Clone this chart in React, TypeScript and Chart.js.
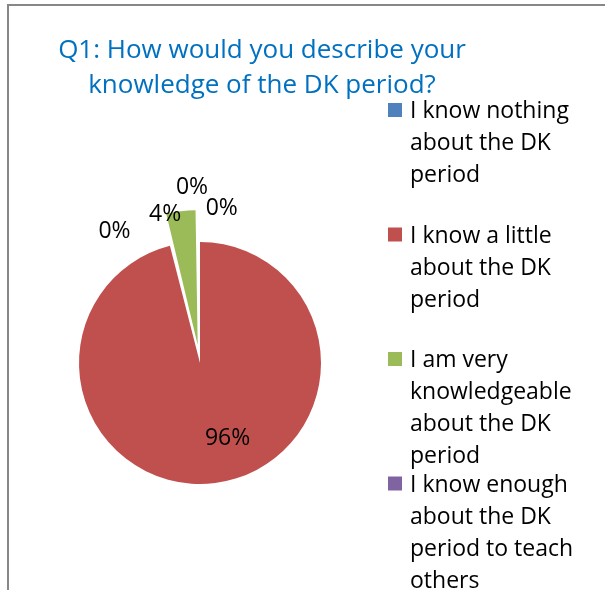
import React, { useEffect, useRef } from "react";
import { Chart, registerables } from "chart.js";

Chart.register(...registerables);

const titleLines = ["Q1: How would you describe your", "knowledge of the DK period?"];
const categories = [
  "I know nothing about the DK period",
  "I know a little about the DK period",
  "I am very knowledgeable about the DK period",
  "I know enough about the DK period to teach others",
  "",
];
const percentValues = [0, 96, 4, 0, 0];
const sliceColors = ["#4F81BD", "#C0504D", "#9BBB59", "#8064A2", "#4BACC6"];
const explodeOffsets = [0, 0, 73, 0, 0];

const FONT = "'Open Sans', 'Noto Sans', sans-serif";
const W = 605;
const H = 590;

// label placement: angle nudge (deg) from slice mid-angle and distance from pie centre
const labelPlacement = [
  { dAngle: 8, dist: 156 },
  { dAngle: -13, dist: 80 },
  { dAngle: -6, dist: 153 },
  { dAngle: -2.6, dist: 176 },
  { dAngle: -33, dist: 157 },
];

function wrapText(ctx: CanvasRenderingContext2D, text: string, maxW: number): string[] {
  const words = text.split(" ");
  const lines: string[] = [];
  let cur = "";
  for (const w of words) {
    const test = cur ? cur + " " + w : w;
    if (ctx.measureText(test).width > maxW && cur) {
      lines.push(cur);
      cur = w;
    } else {
      cur = test;
    }
  }
  if (cur) lines.push(cur);
  return lines;
}

const framePlugin = {
  id: "frame",
  beforeDraw(chart: any) {
    const ctx = chart.ctx;
    ctx.save();
    ctx.fillStyle = "#ffffff";
    ctx.fillRect(0, 0, W, H);
    ctx.strokeStyle = "#878787";
    ctx.lineWidth = 2;
    ctx.beginPath();
    ctx.moveTo(8, H + 5);
    ctx.lineTo(8, 5);
    ctx.lineTo(W + 5, 5);
    ctx.stroke();
    ctx.restore();
  },
};

const titlePlugin = {
  id: "excelTitle",
  afterDraw(chart: any) {
    const ctx = chart.ctx;
    ctx.save();
    ctx.font = `26px ${FONT}`;
    ctx.fillStyle = "#0070C0";
    ctx.textAlign = "center";
    ctx.textBaseline = "alphabetic";
    titleLines.forEach((t, i) => ctx.fillText(t, 262, 58 + i * 35));
    ctx.restore();
  },
};

const legendPlugin = {
  id: "excelLegend",
  afterDraw(chart: any) {
    const ctx = chart.ctx;
    ctx.save();
    ctx.font = `23px ${FONT}`;
    ctx.fillStyle = "#000000";
    ctx.textAlign = "left";
    ctx.textBaseline = "alphabetic";
    let item = 0;
    categories.forEach((label, i) => {
      if (!label) return;
      const base = 118 + item * 124.5;
      ctx.fillStyle = sliceColors[i];
      ctx.fillRect(388, base - 15, 14, 14);
      ctx.fillStyle = "#000000";
      const lines = wrapText(ctx, label, 180);
      lines.forEach((ln, j) => ctx.fillText(ln, 410, base + j * 32));
      item++;
    });
    ctx.restore();
  },
};

const labelPlugin = {
  id: "sliceLabels",
  afterDatasetsDraw(chart: any) {
    const ctx = chart.ctx;
    const meta = chart.getDatasetMeta(0);
    ctx.save();
    ctx.font = `23px ${FONT}`;
    ctx.fillStyle = "#000000";
    ctx.textAlign = "center";
    ctx.textBaseline = "middle";
    meta.data.forEach((arc: any, i: number) => {
      const p = arc.getProps(["x", "y", "startAngle", "endAngle"], true);
      const mid = (p.startAngle + p.endAngle) / 2;
      const pl = labelPlacement[i];
      const a = mid + (pl.dAngle * Math.PI) / 180;
      const x = p.x + Math.cos(a) * pl.dist;
      const y = p.y + Math.sin(a) * pl.dist;
      ctx.fillText(`${percentValues[i]}%`, x, y);
    });
    ctx.restore();
  },
};

export default function App() {
  const ref = useRef<HTMLCanvasElement | null>(null);
  useEffect(() => {
    if (!ref.current) return;
    const chart = new Chart(ref.current, {
      type: "pie",
      data: {
        labels: categories,
        datasets: [
          {
            data: percentValues,
            backgroundColor: sliceColors,
            borderWidth: 0,
            offset: explodeOffsets,
          },
        ],
      },
      options: {
        responsive: false,
        animation: false,
        devicePixelRatio: 1,
        radius: 121,
        layout: { padding: { left: 0, right: 205, top: 136, bottom: 0 } },
        plugins: {
          legend: { display: false },
          title: { display: false },
          tooltip: { enabled: false },
        },
      } as any,
      plugins: [framePlugin, titlePlugin, legendPlugin, labelPlugin],
    });
    return () => chart.destroy();
  }, []);
  return (
    <div style={{ position: "fixed", left: 0, top: 0, width: W, height: H, background: "#fff" }}>
      <canvas ref={ref} width={W} height={H} style={{ display: "block" }} />
    </div>
  );
}
